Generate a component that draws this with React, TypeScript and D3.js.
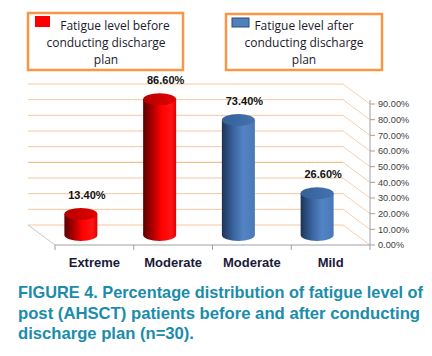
import React from "react";
import * as d3 from "d3";

const categories = ["Extreme", "Moderate", "Moderate", "Mild"];
const beforeValues = [13.4, 86.6, null, null];
const afterValues = [null, null, 73.4, 26.6];
const yTicks = [0, 10, 20, 30, 40, 50, 60, 70, 80, 90];
const legendBefore = ["Fatigue level before", "conducting discharge", "plan"];
const legendAfter = ["Fatigue level after", "conducting discharge", "plan"];
const captionLines = [
  "FIGURE 4. Percentage distribution of fatigue level of",
  "post (AHSCT) patients before and after conducting",
  "discharge plan (n=30).",
];

const W = 432;
const H = 356;
const DX = 27;
const DY = 20;

export default function App() {
  const x = d3.scaleBand<number>().domain(categories.map((_, i) => i)).range([55, 370]).padding(0);
  const y = d3.scaleLinear().domain([0, 90]).range([245, 104]);
  const font = "'Liberation Sans', Arial, sans-serif";
  const rx = 16.5;
  const ry = 6;

  const bars: { i: number; v: number; s: "before" | "after" }[] = [];
  categories.forEach((_, i) => {
    if (beforeValues[i] != null) bars.push({ i, v: beforeValues[i] as number, s: "before" });
    if (afterValues[i] != null) bars.push({ i, v: afterValues[i] as number, s: "after" });
  });

  return (
    <div style={{ margin: -8 }}>
      <svg width={W} height={H} style={{ display: "block", background: "#fff" }}>
        <defs>
          <linearGradient id="gRed" x1="0" x2="1" y1="0" y2="0">
            <stop offset="0%" stopColor="#5a0000" />
            <stop offset="30%" stopColor="#b00000" />
            <stop offset="55%" stopColor="#ff0000" />
            <stop offset="85%" stopColor="#ff1414" />
            <stop offset="100%" stopColor="#e00000" />
          </linearGradient>
          <linearGradient id="gRedTop" x1="0" x2="1" y1="0" y2="0">
            <stop offset="0%" stopColor="#b30000" />
            <stop offset="100%" stopColor="#e60000" />
          </linearGradient>
          <linearGradient id="gBlue" x1="0" x2="1" y1="0" y2="0">
            <stop offset="0%" stopColor="#1c3557" />
            <stop offset="35%" stopColor="#3a64a0" />
            <stop offset="65%" stopColor="#5284c6" />
            <stop offset="100%" stopColor="#4a78b5" />
          </linearGradient>
          <linearGradient id="gBlueTop" x1="0" x2="1" y1="0" y2="0">
            <stop offset="0%" stopColor="#35609a" />
            <stop offset="100%" stopColor="#4572ad" />
          </linearGradient>
        </defs>

        {/* gridlines: back wall + diagonal to right axis */}
        {yTicks.map((t) => {
          const yb = y(t) - DY;
          const xl = 55 - DX;
          const xr = 370 - DX;
          return (
            <g key={t}>
              <line x1={xl} x2={xr} y1={yb} y2={yb} stroke={t === 40 ? "#f0b070" : "#f4c8a0"} strokeWidth={1} />
              <line x1={xr} x2={370} y1={yb} y2={y(t)} stroke="#f0c4a0" strokeWidth={0.8} />
            </g>
          );
        })}
        {/* floor left diagonal */}
        <line x1={55 - DX} y1={y(0) - DY} x2={55} y2={y(0)} stroke="#c8c8c8" strokeWidth={1} />
        {/* front axis */}
        <line x1={55} x2={370} y1={y(0)} y2={y(0)} stroke="#a0a0a0" strokeWidth={1} />
        {categories.map((_, i) => (
          <line key={i} x1={x(i)!} x2={x(i)!} y1={y(0)} y2={y(0) + 5} stroke="#a0a0a0" />
        ))}
        <line x1={370} x2={370} y1={y(0) + 5} y2={y(0)} stroke="#a0a0a0" />
        {/* right axis */}
        <line x1={370} x2={370} y1={y(0)} y2={y(90) - 4} stroke="#a0a0a0" strokeWidth={1} />
        {yTicks.map((t) => (
          <g key={t}>
            <line x1={370} x2={375} y1={y(t)} y2={y(t)} stroke="#a0a0a0" />
            <text x={378} y={y(t) + 3.3} fontFamily={font} fontSize={9.2} fill="#404040">
              {t.toFixed(2) + "%"}
            </text>
          </g>
        ))}

        {/* cylinders */}
        {bars.map((b) => {
          const cx = x(b.i)! + x.bandwidth() / 2 - DX / 2;
          const base = y(0) - DY / 2;
          const top = y(b.v) - DY / 2;
          const body = b.s === "before" ? "url(#gRed)" : "url(#gBlue)";
          const topFill = b.s === "before" ? "url(#gRedTop)" : "url(#gBlueTop)";
          const d = `M${cx - rx},${top} L${cx - rx},${base} A${rx},${ry} 0 0 0 ${cx + rx},${base} L${cx + rx},${top} Z`;
          return (
            <g key={b.i}>
              <path d={d} fill={body} />
              <ellipse cx={cx} cy={top} rx={rx} ry={ry} fill={topFill} />
              <text x={cx + 6} y={top - 15} textAnchor="middle" fontFamily={font} fontWeight="bold" fontSize={11} fill="#111">
                {b.v.toFixed(2) + "%"}
              </text>
            </g>
          );
        })}

        {/* category labels */}
        {categories.map((c, i) => (
          <text key={i} x={x(i)! + x.bandwidth() / 2} y={267} textAnchor="middle" fontFamily={font} fontWeight="bold" fontSize={13} fill="#1a1a3a">
            {c}
          </text>
        ))}

        {/* legend boxes */}
        <rect x={28} y={13} width={155} height={57} fill="#fff" stroke="#f79646" strokeWidth={2.5} />
        <rect x={35} y={16} width={15} height={11} fill="#ff0000" />
        {legendBefore.map((l, k) => (
          <text key={k} x={k === 0 ? 115 : 106} y={29.5 + k * 17} textAnchor="middle" fontFamily="'Open Sans', sans-serif" fontSize={12} fill="#1a1a2e">
            {l}
          </text>
        ))}
        <rect x={226} y={14} width={156} height={56} fill="#fff" stroke="#f79646" strokeWidth={2.5} />
        <rect x={232} y={18} width={17} height={9} fill="#4f81bd" stroke="#2c4d75" strokeWidth={1} />
        {legendAfter.map((l, k) => (
          <text key={k} x={304} y={29.5 + k * 17} textAnchor="middle" fontFamily="'Open Sans', sans-serif" fontSize={12} fill="#1a1a2e">
            {l}
          </text>
        ))}

        {/* caption */}
        {captionLines.map((l, k) => (
          <text key={k} x={18} y={298 + k * 20.5} fontFamily={font} fontWeight="bold" fontSize={16.2} fill="#1b8cab"
            textLength={k === 0 ? 405 : k === 1 ? 402 : 176} lengthAdjust="spacingAndGlyphs">
            {l}
          </text>
        ))}
      </svg>
    </div>
  );
}
